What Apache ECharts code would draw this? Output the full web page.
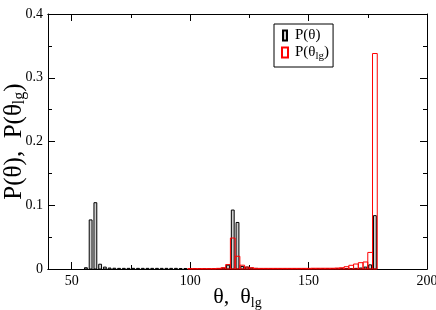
<!DOCTYPE html>
<html><head><meta charset="utf-8">
<script src="https://cdn.jsdelivr.net/npm/echarts@6/dist/echarts.min.js"></script>
<style>html,body{margin:0;padding:0;background:#fff}#c{width:436px;height:310px}</style>
</head><body><div id="c"></div>
<script>
// P(theta) histogram (bin centres in degrees, probabilities)
const thetaBins = [56,58,60,62,64,66,68,70,72,74,76,78,80,82,84,86,88,90,92,94,96,98,
  100,102,104,106,108,110,112,114,116,118,120,122,124,126,128,130,132,134,136,138,140,
  142,144,146,148,150,152,154,156,158,160,162,164,166,168,170,172,174,176,178];
const pTheta = [0.002,0.077,0.104,0.0075,0.003,0.0015,0.0012,0.001,0.001,0.001,0.001,0.001,0.001,0.001,0.001,0.001,0.001,0.001,0.001,0.001,0.0008,0.0008,
  0.0005,0.0005,0.0005,0.0005,0.0005,0.0005,0.0008,0.0015,0.006,0.0925,0.073,0.004,0.003,0.0015,0.001,0.0005,0.0005,0.0005,0.0005,0.0005,0.0005,
  0.0005,0.0005,0.0005,0.0005,0.0005,0.0005,0.0005,0.0005,0.0005,0.0005,0.0005,0.0005,0.0005,0.0005,0.001,0.0015,0.003,0.0065,0.0837];
// P(theta_lg) histogram
const thetaLgBins = [100,102,104,106,108,110,112,114,116,118,120,122,124,126,128,130,132,134,136,138,140,
  142,144,146,148,150,152,154,156,158,160,162,164,166,168,170,172,174,176,178];
const pThetaLg = [0.0005,0.0005,0.0005,0.0005,0.0005,0.0005,0.001,0.002,0.007,0.0486,0.02,0.006,0.003,0.002,0.001,0.001,0.001,0.001,0.001,0.001,0.001,
  0.001,0.001,0.001,0.001,0.001,0.0012,0.0012,0.0012,0.0012,0.0012,0.0015,0.002,0.0036,0.0058,0.0078,0.0099,0.011,0.026,0.338];
const xMajorTicks = [50,100,150,200];
const xMinorTicks = [75,125,175];
const seriesNames = ['P(θ)', 'P(θlg)'];

const FONT = '"Liberation Serif", "DejaVu Serif", serif';
const chart = echarts.init(document.getElementById('c'), null, {renderer:'canvas'});

function histItem(width, fill, stroke) {
  return function (params, api) {
    const x = api.value(0), y = api.value(1);
    const p0 = api.coord([x - width/2, y]);
    const p1 = api.coord([x + width/2, 0]);
    return {
      type: 'rect',
      shape: {x: p0[0], y: p0[1], width: p1[0]-p0[0], height: p1[1]-p0[1]},
      style: {fill: fill, stroke: stroke, lineWidth: 1}
    };
  };
}

const richName = {
  a: {fontSize: 22, fontFamily: FONT, color: '#000'},
  s: {fontSize: 14, fontFamily: FONT, color: '#000', padding: [11,0,0,0]}
};
const richNameY = {
  a: {fontSize: 25, fontFamily: FONT, color: '#000'},
  s: {fontSize: 16, fontFamily: FONT, color: '#000', padding: [12,0,0,0]}
};
const richLeg = {
  a: {fontSize: 15, fontFamily: FONT, color: '#000'},
  s: {fontSize: 11, fontFamily: FONT, color: '#000', padding: [8,0,0,0]}
};

function xAxisDef(pos, ticks, len, labels) {
  return {
    type: 'value', min: 40, max: 200, position: pos, gridIndex: 0,
    axisLine: {show: true, onZero: false, lineStyle: {color: '#000', width: 1}},
    axisTick: {show: true, inside: true, length: len, customValues: ticks, lineStyle: {color: '#000'}},
    axisLabel: labels ? {show: true, customValues: ticks, margin: 5, color: '#000', fontSize: 14, fontFamily: FONT} : {show: false},
    splitLine: {show: false}
  };
}

const option = {
  animation: false,
  backgroundColor: '#fff',
  grid: {left: 48, right: 9, top: 14, bottom: 41, containLabel: false, outerBoundsMode: 'none'},
  legend: {
    show: true, orient: 'vertical', left: 274, top: 24,
    padding: [4, 4, 5, 7], itemGap: 2, itemWidth: 10, itemHeight: 10,
    borderColor: '#000', borderWidth: 1, backgroundColor: '#fff',
    symbolKeepAspect: true,
    data: [
      {name: seriesNames[0], icon: 'path://M0,0h4v10h-4z'},
      {name: seriesNames[1], icon: 'path://M0,0h6v10h-6z'}
    ],
    formatter: function (n) { return n === seriesNames[1] ? '{a|P(θ}{s|lg}{a|)}' : '{a|P(θ)}'; },
    textStyle: {rich: richLeg, fontSize: 15, fontFamily: FONT, color: '#000'}
  },
  xAxis: [
    Object.assign(xAxisDef('bottom', xMajorTicks, 7, true), {
      name: '{a|θ,  θ}{s|lg}', nameLocation: 'middle', nameGap: 16, nameMoveOverlap: false,
      nameTextStyle: {rich: richName}
    }),
    xAxisDef('bottom', xMinorTicks, 4, false),
    xAxisDef('top', xMajorTicks, 7, false),
    xAxisDef('top', xMinorTicks, 4, false)
  ],
  yAxis: [
    {
      type: 'value', min: 0, max: 0.4, interval: 0.1, position: 'left',
      axisLine: {show: true, lineStyle: {color: '#000', width: 1}},
      axisTick: {show: true, inside: true, length: 7, lineStyle: {color: '#000'}},
      minorTick: {show: true, splitNumber: 2, length: 4, lineStyle: {color: '#000'}},
      axisLabel: {margin: 5, color: '#000', fontSize: 14, fontFamily: FONT},
      splitLine: {show: false}, minorSplitLine: {show: false},
      name: '{a|P(θ),  P(θ}{s|lg}{a|)}', nameLocation: 'middle', nameRotate: 90, nameGap: 20, nameMoveOverlap: false,
      nameTextStyle: {rich: richNameY}
    },
    {
      type: 'value', min: 0, max: 0.4, interval: 0.1, position: 'right',
      axisLine: {show: true, lineStyle: {color: '#000', width: 1}},
      axisTick: {show: true, inside: true, length: 7, lineStyle: {color: '#000'}},
      minorTick: {show: true, splitNumber: 2, length: 4, lineStyle: {color: '#000'}},
      axisLabel: {show: false}, splitLine: {show: false}, minorSplitLine: {show: false}
    }
  ],
  series: [
    {
      name: seriesNames[0], type: 'custom', xAxisIndex: 0, yAxisIndex: 0, z: 2,
      itemStyle: {color: '#d0d0d0', borderColor: '#000', borderWidth: 1},
      renderItem: histItem(1.2, '#d0d0d0', '#000'),
      encode: {x: 0, y: 1},
      data: thetaBins.map((b, i) => [b, pTheta[i]])
    },
    {
      name: seriesNames[1], type: 'custom', xAxisIndex: 0, yAxisIndex: 0, z: 3,
      itemStyle: {color: '#fff', borderColor: '#f00', borderWidth: 1},
      renderItem: histItem(2, 'none', '#f00'),
      encode: {x: 0, y: 1},
      data: thetaLgBins.map((b, i) => [b, pThetaLg[i]])
    }
  ]
};
chart.setOption(option);
</script>
</body></html>
